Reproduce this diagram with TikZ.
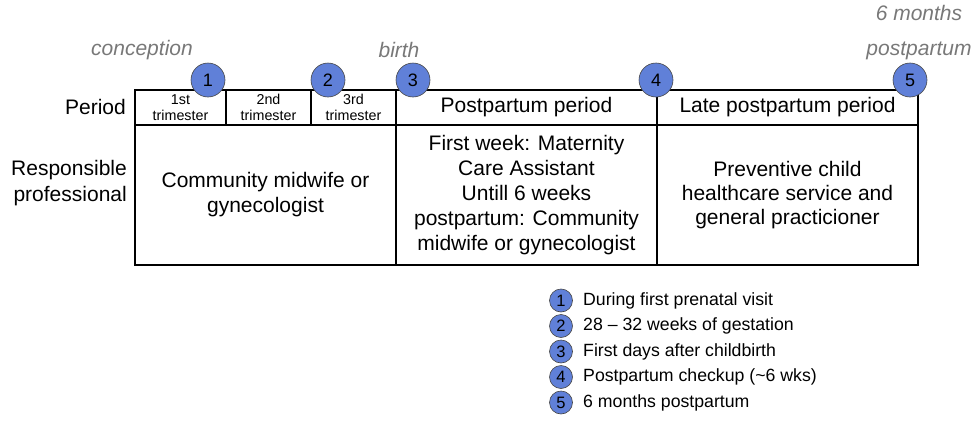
\documentclass[tikz,border=0pt]{standalone}
\usepackage{fontspec}
\setmainfont{Liberation Sans}
\definecolor{markblue}{RGB}{96,128,216}
\definecolor{labgray}{RGB}{120,120,120}
\definecolor{rimgray}{RGB}{70,70,70}
\begin{document}
\begin{tikzpicture}[x=1pt,y=-1pt,
  cell/.style={draw, line width=1.3pt, inner sep=0pt, align=center, minimum height=#1},
  cell/.default=35,
  big/.style={font=\fontsize{21}{25}\selectfont},
  small/.style={font=\fontsize{14.3}{15.5}\selectfont},
  marker/.style={circle, fill=markblue, draw=rimgray, line width=0.6pt, minimum size=34pt, inner sep=0pt, font=\fontsize{18}{18}\selectfont},
  legmark/.style={circle, fill=markblue, draw=rimgray, line width=0.6pt, minimum size=23pt, inner sep=0pt, font=\fontsize{16.5}{16.5}\selectfont},
  legtext/.style={anchor=west, inner sep=0pt, font=\fontsize{17.7}{20}\selectfont},
  timelab/.style={text=labgray, inner sep=0pt, align=center, font=\fontsize{21}{35}\selectfont\itshape},
  rowlab/.style={anchor=east, inner sep=0pt, align=right, big}
]
\useasboundingbox (0,0) rectangle (975,442);

% period row
\node[cell, small, minimum width=91pt] (t1) at (180.5,107.5) {1st\\trimester};
\node[cell, small, minimum width=85pt] (t2) at (268.5,107.5) {2nd\\trimester};
\node[cell, small, minimum width=85pt] (t3) at (353.5,107.5) {3rd\\trimester};
\node[cell, big, minimum width=261pt] (pp) at (526.5,107.5) {Postpartum period};
\node[cell, big, minimum width=261pt] (lpp) at (787.5,107.5) {Late postpartum period};

% responsible row
\node[cell=140, big, minimum width=261pt] (ra) at (265.5,195) {Community midwife or\\gynecologist};
\node[cell=140, big, minimum width=261pt] (rb) at (526.5,195) {First week: Maternity\\Care Assistant\\Untill 6 weeks\\postpartum: Community\\midwife or gynecologist};
\node[cell=140, font=\fontsize{21}{24}\selectfont, minimum width=261pt] (rc) at (787.5,195) {Preventive child\\healthcare service and\\general practicioner};

% row labels
\node[rowlab] (lperiod) at (126,107) {Period};
\node[rowlab, font=\fontsize{21}{26}\selectfont] (lresp) at (127,183) {Responsible\\professional};

% time labels
\node[timelab] (conc) at (142,50) {conception};
\node[timelab] (birth) at (399,50) {birth};
\node[timelab] (sixm) at (919,33) {6 months\\postpartum};

% markers
\node[marker] (m1) at (208,80) {1};
\node[marker] (m2) at (328,80) {2};
\node[marker] (m3) at (413,80) {3};
\node[marker] (m4) at (656,80) {4};
\node[marker] (m5) at (910,80) {5};

% legend
\node[legmark] (k1) at (561,300.5) {1};
\node[legmark] (k2) at (561,326) {2};
\node[legmark] (k3) at (561,351.5) {3};
\node[legmark] (k4) at (561,377) {4};
\node[legmark] (k5) at (561,402.5) {5};
\node[legtext] (d1) at (583,300.5) {During first prenatal visit};
\node[legtext] (d2) at (583,326) {28 -- 32 weeks of gestation};
\node[legtext] (d3) at (583,351.5) {First days after childbirth};
\node[legtext] (d4) at (583,377) {Postpartum checkup (\textasciitilde 6 wks)};
\node[legtext] (d5) at (583,402.5) {6 months postpartum};
\end{tikzpicture}
\end{document}
